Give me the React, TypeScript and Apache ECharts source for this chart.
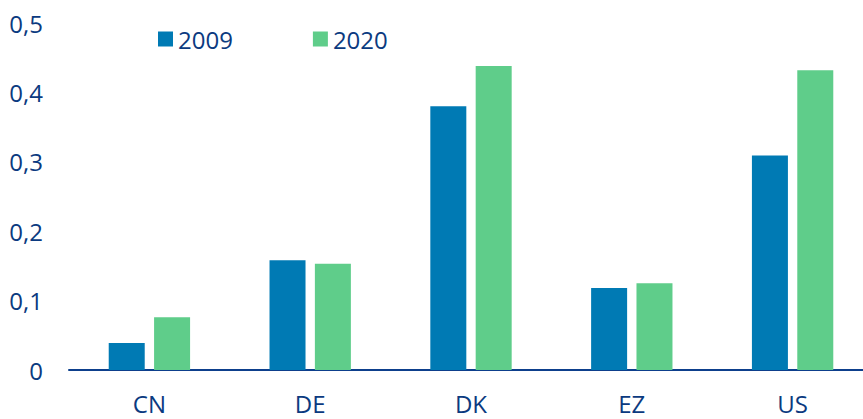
import React, { useEffect, useRef } from "react";
import * as echarts from "echarts";

const categories = ["CN", "DE", "DK", "EZ", "US"];
const seriesNames = ["2009", "2020"];
const values2009 = [0.039, 0.158, 0.38, 0.118, 0.309];
const values2020 = [0.076, 0.153, 0.438, 0.125, 0.432];
const yTicks = [0, 0.1, 0.2, 0.3, 0.4, 0.5];

const TEXT = "#0b3a80";
const FONT = "'Open Sans', sans-serif";

export default function App() {
  const ref = useRef<HTMLDivElement>(null);
  useEffect(() => {
    if (!ref.current) return;
    const chart = echarts.init(ref.current, undefined, { renderer: "svg" });
    chart.setOption({
      animation: false,
      backgroundColor: "#ffffff",
      textStyle: { fontFamily: FONT },
      legend: {
        left: 153,
        top: 22,
        itemWidth: 15,
        itemHeight: 15,
        itemGap: 80,
        icon: "rect",
        data: seriesNames,
        textStyle: { color: TEXT, fontSize: 24, fontFamily: FONT, lineHeight: 24 },
      },
      grid: {
        left: 69,
        top: 23,
        width: 804,
        height: 347,
        containLabel: false,
        outerBoundsMode: "none",
      },
      xAxis: {
        type: "category",
        data: categories,
        axisLine: { show: true, lineStyle: { color: "#0d3f8c", width: 2 } },
        axisTick: { show: false },
        axisLabel: { color: TEXT, fontSize: 24, fontFamily: FONT, margin: 21, lineHeight: 24 },
        splitLine: { show: false },
      },
      yAxis: {
        type: "value",
        min: yTicks[0],
        max: yTicks[yTicks.length - 1],
        interval: 0.1,
        axisLine: { show: false },
        axisTick: { show: false },
        splitLine: { show: false },
        axisLabel: {
          color: TEXT,
          fontSize: 24,
          fontFamily: FONT,
          margin: 26,
          formatter: (v: number) => (Math.round(v * 10) / 10).toString().replace(".", ","),
        },
      },
      series: [
        {
          name: seriesNames[0],
          type: "bar",
          data: values2009,
          barWidth: 36,
          barGap: "26%",
          itemStyle: { color: "#007ab4" },
        },
        {
          name: seriesNames[1],
          type: "bar",
          data: values2020,
          barWidth: 36,
          barGap: "26%",
          itemStyle: { color: "#5fcd8a" },
        },
      ],
    });
    return () => chart.dispose();
  }, []);
  return <div ref={ref} style={{ width: 863, height: 419, position: "fixed", left: 0, top: 0 }} />;
}
